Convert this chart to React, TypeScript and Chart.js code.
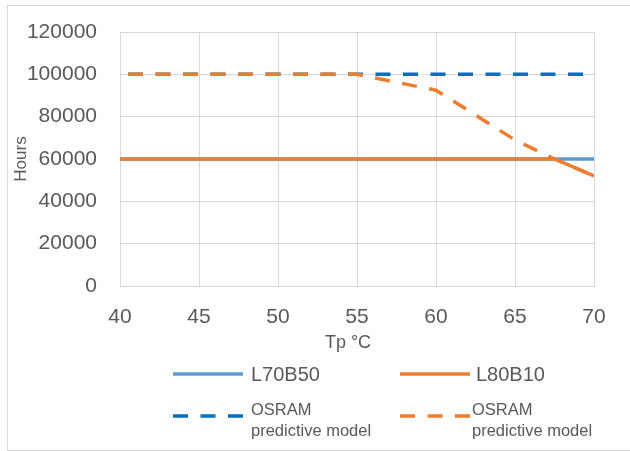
import React, { useEffect, useRef } from "react";
import { Chart, registerables } from "chart.js";

Chart.register(...registerables);

const temps = [40, 45, 50, 55, 60, 65, 67.5, 70];
const l70b50 = [60000, 60000, 60000, 60000, 60000, 60000, 60000, 60000];
const l80b10 = [60000, 60000, 60000, 60000, 60000, 60000, 60000, 52000];
const osramBlue = [100000, 100000, 100000, 100000, 100000, 100000, 100000, 100000];
const osramOrange = [100000, 100000, 100000, 100000, 92500, 69000, 60000, 52000];

const xTitle = "Tp °C";
const yTitle = "Hours";
const legendNames = ["L70B50", "L80B10", "OSRAM\npredictive model", "OSRAM\npredictive model"];

const LIGHT_BLUE = "#5B9BD5";
const ORANGE = "#ED7D31";
const DARK_BLUE = "#0070C0";
const TEXT = "#595959";
const GRID = "#d9d9d9";
const FONT = "'Liberation Sans', Arial, sans-serif";

const pts = (ys: number[]) => temps.map((x, i) => ({ x, y: ys[i] }));

const overlayPlugin = {
  id: "overlay",
  afterDraw(chart: any) {
    const ctx = chart.ctx;
    ctx.save();
    ctx.fillStyle = TEXT;
    ctx.font = `18px ${FONT}`;
    ctx.textAlign = "center";
    ctx.textBaseline = "middle";
    ctx.fillText(xTitle, 348, 343);

    const items = [
      { color: LIGHT_BLUE, dash: [], x0: 173, x1: 243, tx: 251, y: 374 },
      { color: ORANGE, dash: [], x0: 400, x1: 470, tx: 476, y: 374 },
      { color: DARK_BLUE, dash: [15, 12.5], x0: 173, x1: 243, tx: 251, y: 416 },
      { color: ORANGE, dash: [15, 12.5], x0: 400, x1: 470, tx: 472, y: 416 },
    ];
    items.forEach((it, i) => {
      ctx.beginPath();
      ctx.strokeStyle = it.color;
      ctx.lineWidth = 3.5;
      ctx.setLineDash(it.dash);
      ctx.lineCap = "butt";
      ctx.moveTo(it.x0, it.y);
      ctx.lineTo(it.x1, it.y);
      ctx.stroke();
      ctx.setLineDash([]);
      ctx.fillStyle = TEXT;
      ctx.textAlign = "left";
      ctx.textBaseline = "middle";
      const lines = legendNames[i].split("\n");
      if (lines.length === 1) {
        ctx.font = `20px ${FONT}`;
        ctx.fillText(lines[0], it.tx, it.y + 1);
      } else {
        ctx.font = `16.5px ${FONT}`;
        ctx.fillText(lines[0], it.tx, 410);
        ctx.fillText(lines[1], it.tx, 431);
      }
    });
    ctx.restore();
  },
};

export default function App() {
  const ref = useRef<HTMLCanvasElement | null>(null);
  useEffect(() => {
    if (!ref.current) return;
    const chart = new Chart(ref.current, {
      type: "line",
      data: {
        datasets: [
          { label: "L70B50", data: pts(l70b50), borderColor: LIGHT_BLUE, borderWidth: 3.5, pointRadius: 0, order: 4 },
          { label: "L80B10", data: pts(l80b10), borderColor: ORANGE, borderWidth: 3.5, pointRadius: 0, order: 3 },
          { label: "OSRAM predictive model", data: pts(osramBlue), borderColor: DARK_BLUE, borderWidth: 3.5, borderDash: [15, 12.5], borderDashOffset: 19.5, pointRadius: 0, order: 2 },
          { label: "OSRAM predictive model", data: pts(osramOrange), borderColor: ORANGE, borderWidth: 3.5, borderDash: [15, 12.5], borderDashOffset: 19.5, pointRadius: 0, order: 1 },
        ],
      },
      options: {
        animation: false,
        responsive: false,
        devicePixelRatio: 1,
        layout: { padding: { left: 0, top: 32, right: 36, bottom: 0 } },
        plugins: { legend: { display: false }, tooltip: { enabled: false } },
        scales: {
          x: {
            type: "linear",
            min: 40,
            max: 70,
            ticks: { stepSize: 5, color: TEXT, font: { family: FONT, size: 21 }, padding: 19, maxRotation: 0 },
            grid: { color: GRID, drawTicks: false },
            border: { color: GRID },
            afterFit: (s: any) => { s.height = 165; s.paddingLeft = 0; s.paddingRight = 0; s.paddingTop = 0; s.paddingBottom = 0; },
          },
          y: {
            min: 0,
            max: 120000,
            ticks: { stepSize: 20000, color: TEXT, font: { family: FONT, size: 21 }, padding: 23, callback: (v: any) => String(v) },
            grid: { color: GRID, drawTicks: false },
            border: { color: GRID },
            title: { display: true, text: yTitle, color: TEXT, font: { family: FONT, size: 17 }, padding: { top: 11, bottom: 0 } },
            afterFit: (s: any) => { s.width = 120; s.paddingLeft = 0; s.paddingRight = 0; s.paddingTop = 0; s.paddingBottom = 0; },
          },
        },
      },
      plugins: [overlayPlugin],
    } as any);
    return () => chart.destroy();
  }, []);
  return (
    <div style={{ position: "fixed", left: 0, top: 0, width: 630, height: 451, background: "#fff", overflow: "hidden" }}>
      <div style={{ position: "absolute", left: 7, top: 5, width: 640, height: 444, border: `1px solid ${GRID}` }} />
      <canvas ref={ref} width={630} height={451} style={{ position: "absolute", left: 0, top: 0, width: 630, height: 451 }} />
    </div>
  );
}
